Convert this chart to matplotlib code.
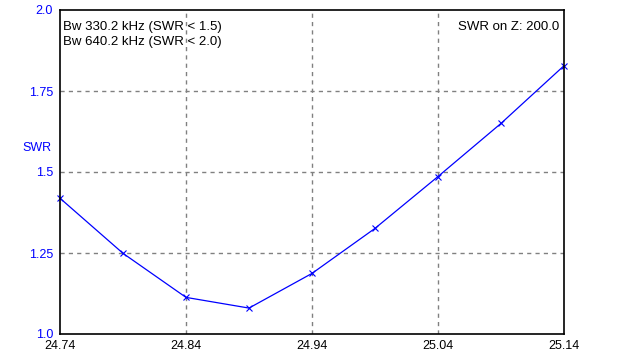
import matplotlib
matplotlib.use("Agg")
import matplotlib.pyplot as plt

plt.rcParams['font.family'] = ['Liberation Sans', 'DejaVu Sans']

freq = [24.74, 24.79, 24.84, 24.89, 24.94, 24.99, 25.04, 25.09, 25.14]
swr = [1.419, 1.249, 1.113, 1.080, 1.187, 1.326, 1.486, 1.650, 1.828]

xticks = [24.74, 24.84, 24.94, 25.04, 25.14]
xlabels = ['24.74', '24.84', '24.94', '25.04', '25.14']
yticks = [1.0, 1.25, 1.5, 1.75, 2.0]
ylabels = ['1.0', '1.25', '1.5', '1.75', '2.0']

fig = plt.figure(figsize=(6.24, 3.64), dpi=100)
ax = fig.add_axes([60 / 624, 30 / 364, 504 / 624, 324 / 364])

ax.plot(freq, swr, color='#0000ff', lw=0.9, marker='x', ms=5, mew=0.8, clip_on=False)

ax.set_xlim(24.74, 25.14)
ax.set_ylim(1.0, 2.0)
ax.set_xticks(xticks)
ax.set_xticklabels(xlabels)
ax.set_yticks(yticks)
ax.set_yticklabels(ylabels, color='#0000ff')
ax.tick_params(length=0, labelsize=9, pad=5)
ax.tick_params(axis='x', pad=4)

for x in xticks[1:-1]:
    ax.axvline(x, color='#808080', ls=(0, (3, 3)), lw=1, zorder=0)
for y in yticks[1:-1]:
    ax.axhline(y, color='#808080', ls=(0, (3, 3)), lw=1, zorder=0)

for s in ax.spines.values():
    s.set_color('black')
    s.set_linewidth(1.2)

fig.text(37 / 624, 1 - 148 / 364, 'SWR', color='#0000ff', fontsize=9, ha='center', va='center')
ax.text(0.006, 0.965, 'Bw 330.2 kHz (SWR < 1.5)\nBw 640.2 kHz (SWR < 2.0)',
        transform=ax.transAxes, fontsize=9.5, va='top', ha='left', linespacing=1.3)
ax.text(0.99, 0.965, 'SWR on Z: 200.0', transform=ax.transAxes, fontsize=9.5, va='top', ha='right')

fig.savefig('out.png', dpi=100)
